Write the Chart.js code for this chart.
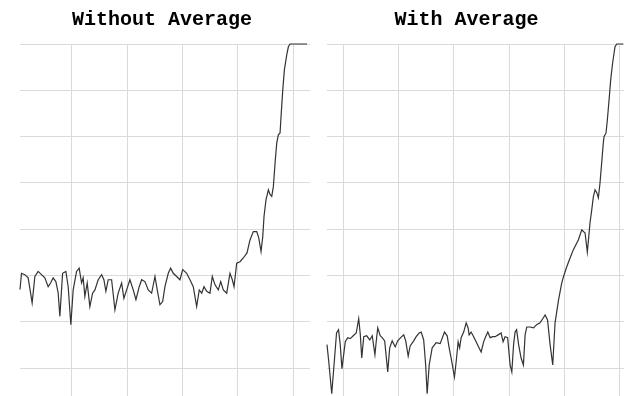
<!DOCTYPE html>
<html>
<head>
<meta charset="utf-8">
<script src="https://cdn.jsdelivr.net/npm/chart.js@4/dist/chart.umd.min.js"></script>
<style>
  html, body { margin: 0; padding: 0; background: #fff; overflow: hidden; }
  body { width: 624px; height: 396px; position: relative; }
  canvas { position: absolute; top: 0; }
  #left { left: 0; }
  #right { left: 309px; }
</style>
</head>
<body>
<canvas id="left" width="324" height="396"></canvas>
<canvas id="right" width="315" height="396"></canvas>
<script>
// Panel titles
const titleLeft = 'Without Average';
const titleRight = 'With Average';

// Level (grid units of 10) and sweep position for the raw trace
const leftX = [0.7,0.97,1.57,2.17,2.89,3.38,3.97,4.58,5.18,5.78,
  6.21,6.68,7.17,7.58,7.89,8.38,8.97,9.39,9.87,10.29,
  10.9,11.37,11.81,12.09,12.4,12.82,13.3,13.79,14.21,14.8,
  15.42,15.83,16.19,16.61,17.22,17.82,18.41,19.03,19.44,19.93,
  20.52,21.12,21.61,22.2,22.64,23.23,23.83,24.44,25.04,25.45,
  25.94,26.43,26.84,27.44,27.87,28.34,28.95,29.55,30.04,30.76,
  31.35,31.95,32.56,33.03,33.47,33.88,34.37,34.96,35.38,35.87,
  36.46,36.9,37.36,37.98,38.57,38.99,39.3,39.78,40.38,40.97,
  41.64,42.18,42.78,43.39,43.75,44.17,44.48,44.71,45.07,45.49,
  45.79,46.1,46.39,46.7,47.0,47.29,47.6,47.78,48.09,48.38,
  48.81,49.1,49.4,52.47];
const leftY = [27.0,30.5,30.2,29.5,24.1,29.8,30.9,30.2,29.5,27.6,
  28.4,29.5,28.7,26.3,21.2,30.5,30.9,27.6,19.4,26.9,
  30.9,31.6,28.4,29.5,25.5,28.4,23.3,26.2,26.9,29.1,
  30.2,29.1,26.6,29.1,29.1,22.6,26.2,28.4,25.1,26.9,
  29.1,26.9,24.8,27.6,29.1,28.7,26.9,26.2,29.8,26.9,
  23.7,24.4,27.6,30.5,31.6,30.5,29.8,29.1,31.3,30.5,
  29.1,27.6,23.3,26.9,26.2,27.6,26.6,26.2,29.8,28.0,
  26.9,28.7,26.9,26.2,30.5,29.1,27.6,32.7,33.0,33.8,
  34.9,37.7,39.5,39.5,38.2,35.2,38.4,42.8,46.4,48.5,
  47.5,47.1,49.2,54.3,58.6,60.4,60.8,64.4,70.1,74.4,
  77.7,79.4,80,80];

// Averaged trace
const rightX = [7.0,7.32,7.86,8.32,8.73,9.09,9.40,9.71,10.31,10.76,
  11.21,11.76,12.30,12.75,13.03,13.30,13.66,14.20,14.75,15.20,
  15.69,15.92,16.20,16.65,17.01,17.46,18.01,18.37,18.82,19.37,
  19.82,20.36,20.91,21.27,21.72,22.08,22.72,23.17,23.71,24.08,
  24.53,24.89,25.16,25.53,26.07,26.79,27.52,28.30,28.79,29.15,
  29.51,30.11,30.42,30.78,31.05,31.32,31.78,32.23,32.59,32.77,
  33.13,33.59,34.04,34.49,34.95,35.40,35.76,36.16,36.58,37.03,
  37.48,38.03,38.57,38.93,39.29,39.75,40.20,40.51,40.83,41.10,
  41.38,41.74,42.19,42.61,42.92,43.22,43.82,44.46,45.00,45.63,
  46.23,46.54,46.99,47.45,47.93,48.35,48.99,49.53,49.86,50.47,
  51.07,51.67,52.57,53.19,53.79,54.20,54.46,54.69,55.0,55.29,
  55.6,55.91,56.2,56.5,56.81,57.1,57.23,57.59,57.83,58.19,
  58.44,58.8,59.22,59.53,60.72];
const rightY = [15.1,11.4,4.5,11.4,17.6,18.3,15.1,9.9,15.7,16.6,
  16.4,17.0,17.6,20.7,17.4,12.2,16.8,17.0,16.1,17.0,
  12.9,15.7,18.7,17.0,16.6,15.9,9.2,14.4,15.9,14.6,
  15.9,16.6,17.2,15.9,12.6,14.8,15.9,16.8,17.6,17.8,
  16.1,10.7,4.5,10.7,14.4,15.5,15.3,17.8,17.0,14.4,
  12.2,8.1,11.4,15.7,14.4,16.6,17.8,19.8,18.7,17.2,
  17.8,16.8,15.7,14.6,13.5,15.7,16.8,17.8,16.6,16.8,
  16.8,17.2,17.6,15.7,16.8,16.6,10.7,9.2,15.1,17.8,
  18.3,15.1,12.2,10.7,17.2,18.9,18.9,18.7,19.4,19.8,
  20.9,21.5,20.4,15.1,10.7,19.8,24.8,28.2,29.7,31.9,
  33.8,35.6,37.7,39.9,39.2,35.1,38.4,41.4,44.2,47.0,
  48.5,47.9,46.8,50.0,54.4,58.7,60.0,60.8,63.6,68.6,
  72.3,76.0,79.4,80,80];

// Grid positions
const yGrid = [10, 20, 30, 40, 50, 60, 70, 80];
const xGridLeft = [10, 20, 30, 40, 50];
const xGridRight = [10, 20, 30, 40, 50, 60];

const GRID = '#dadada';
const LINE = '#333333';

function panel(id, title, xs, ys, xRange, xGrid, leftGutter, rightGutter) {
  const scales = {
    x: {
      type: 'linear', min: xRange[0], max: xRange[1],
      grid: { color: GRID, lineWidth: 1, drawTicks: false },
      border: { display: false },
      ticks: { display: false },
      afterBuildTicks: s => { s.ticks = xGrid.map(v => ({ value: v })); },
      afterFit: s => { s.height = 0; }
    },
    y: {
      type: 'linear', min: 4, max: 80,
      grid: { color: GRID, lineWidth: 1, drawTicks: false },
      border: { display: false },
      ticks: { display: false },
      afterBuildTicks: s => { s.ticks = yGrid.map(v => ({ value: v })); },
      afterFit: s => { s.width = leftGutter; }
    }
  };
  if (rightGutter) {
    scales.yR = {
      type: 'linear', position: 'right', min: 0, max: 1,
      grid: { display: false },
      border: { display: false },
      ticks: { display: false },
      afterFit: s => { s.width = rightGutter; }
    };
  }
  return new Chart(document.getElementById(id), {
    type: 'line',
    data: {
      datasets: [{
        data: xs.map((x, i) => ({ x: x, y: ys[i] })),
        borderColor: LINE,
        borderWidth: 1.2,
        pointRadius: 0,
        tension: 0,
        clip: false
      }]
    },
    options: {
      responsive: false,
      animation: false,
      devicePixelRatio: 1,
      layout: { padding: 0 },
      plugins: {
        legend: { display: false },
        tooltip: { enabled: false },
        title: {
          display: true,
          text: title,
          color: '#000',
          font: { family: 'Liberation Mono', weight: 'bold', size: 20, lineHeight: 1.2 },
          padding: { top: 8, bottom: 12 }
        }
      },
      scales: scales
    }
  });
}

panel('left', titleLeft, leftX, leftY, [0.7, 53.0], xGridLeft, 20, 14);
panel('right', titleRight, rightX, rightY, [7.0, 60.85], xGridRight, 18, 0);
</script>
</body>
</html>
